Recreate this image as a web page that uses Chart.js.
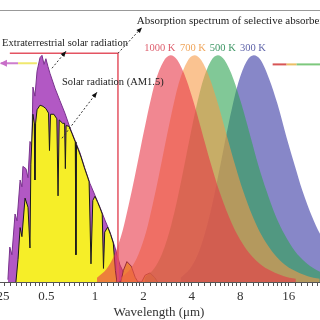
<!DOCTYPE html>
<html>
<head>
<meta charset="utf-8">
<script src="https://cdn.jsdelivr.net/npm/chart.js@4.4.1/dist/chart.umd.min.js"></script>
<style>
  html, body { margin: 0; padding: 0; background: #fff; }
  #wrap { position: relative; width: 320px; height: 320px; overflow: hidden; }
  #chart { position: absolute; left: -24px; top: 0; }
</style>
</head>
<body>
<div id="wrap"><canvas id="chart" width="364" height="320"></canvas></div>
<script>
// axis ticks (wavelength, um)
const tickValues = [0.25, 0.5, 1, 2, 4, 8, 16];
const tickLabels = ['0.25', '0.5', '1', '2', '4', '8', '16'];

// extraterrestrial solar spectrum (normalised)
const etWl  = [0.288,0.296,0.305,0.319,0.328,0.343,0.352,0.357,0.373,0.384,0.395,0.406,0.412,0.424,0.437,0.456,0.469,0.483,0.496,0.511,0.526,0.565,0.606,0.651,0.70,0.752,0.807,0.867,0.931,1.0,1.074,1.154,1.24,1.33,1.43,1.535,1.65];
const etVal = [0.01,0.154,0.12,0.30,0.27,0.45,0.42,0.51,0.50,0.46,0.62,0.60,0.86,0.82,0.93,0.99,1.0,0.96,0.985,0.95,0.92,0.855,0.80,0.745,0.68,0.625,0.57,0.50,0.435,0.383,0.33,0.273,0.22,0.154,0.075,0.03,0.005];

// solar radiation AM1.5
const amWl  = [0.323,0.333,0.343,0.352,0.368,0.384,0.395,0.40,0.412,0.42,0.424,0.428,0.437,0.456,0.476,0.496,0.515,0.522,0.53,0.556,0.58,0.59,0.60,0.63,0.648,0.655,0.662,0.69,0.72,0.755,0.762,0.768,0.79,0.82,0.86,0.90,0.92,0.945,0.97,1.0,1.04,1.08,1.11,1.13,1.15,1.2,1.25,1.3,1.34,1.37,1.45,1.5,1.58,1.68,1.78,1.85,1.95,2.05,2.2,2.35,2.45];
const amVal = [0,0.10,0.24,0.20,0.37,0.33,0.15,0.52,0.74,0.70,0.45,0.70,0.76,0.78,0.775,0.765,0.745,0.58,0.74,0.74,0.72,0.38,0.715,0.70,0.70,0.50,0.69,0.687,0.655,0.618,0.12,0.604,0.582,0.551,0.504,0.463,0.442,0.08,0.36,0.378,0.351,0.323,0.300,0.06,0.22,0.242,0.21,0.172,0.05,0,0,0.05,0.09,0.07,0.02,0,0,0.03,0.04,0.02,0];

// absorption spectrum of selective absorber
const absWl  = [0.296, 1.39, 1.39];
const absVal = [1.009, 1.009, 0];

// blackbody curves (normalised to their peaks)
const bbVal   = [0.019,0.057,0.125,0.222,0.34,0.467,0.591,0.704,0.878,0.972,1,0.979,0.895,0.786,0.638,0.51,0.405,0.289,0.208,0.138,0.087,0.057,0.027,0.014];
const bb1000Wl = [1.03,1.18,1.33,1.48,1.62,1.77,1.92,2.07,2.36,2.66,2.95,3.25,3.69,4.13,4.72,5.31,5.9,6.79,7.67,8.85,10.3,11.8,14.8,17.7];
const bb700Wl  = [1.45,1.66,1.87,2.08,2.28,2.49,2.70,2.91,3.32,3.74,4.15,4.57,5.19,5.81,6.64,7.47,8.3,9.55,10.8,12.5,14.5,16.6,20.8,24.9];
const bb500Wl  = [2.03,2.32,2.61,2.9,3.19,3.48,3.77,4.06,4.64,5.22,5.8,6.38,7.25,8.12,9.28,10.4,11.6,13.3,15.1,17.4,20.3,23.2,29,34.8];
const bb300Wl  = [3.4,3.88,4.37,4.85,5.34,5.82,6.31,6.79,7.76,8.73,9.7,10.7,12.1,13.6,15.5,17.5,19.4,22.3,25.2,29.1,34,38.8,48.5,58.2];

function pts(xs, ys) {
    return xs.map((x, i) => ({x: x, y: ys[i]}))
}

// minor ticks: tenths of each octave
const allTicks = [];
tickValues.forEach(a => {
    allTicks.push(a);
    for (let k = 1; k < 10; k++) allTicks.push(a + k * a / 10);
});

const serif = '"Liberation Serif", "Times New Roman", serif';

function dottedArrow(ctx, x1, y1, x2, y2) {
    ctx.save();
    ctx.strokeStyle = '#333';
    ctx.lineWidth = 1;
    ctx.setLineDash([2, 2]);
    ctx.beginPath();
    ctx.moveTo(x1, y1);
    ctx.lineTo(x2, y2);
    ctx.stroke();
    ctx.setLineDash([]);
    const a = Math.atan2(y2 - y1, x2 - x1);
    ctx.fillStyle = '#111';
    ctx.beginPath();
    ctx.moveTo(x2, y2);
    ctx.lineTo(x2 - 6 * Math.cos(a - 0.4), y2 - 6 * Math.sin(a - 0.4));
    ctx.lineTo(x2 - 6 * Math.cos(a + 0.4), y2 - 6 * Math.sin(a + 0.4));
    ctx.closePath();
    ctx.fill();
    ctx.restore();
}

function seg(ctx, x1, x2, y, color) {
    ctx.strokeStyle = color;
    ctx.lineWidth = 2;
    ctx.beginPath();
    ctx.moveTo(x1, y);
    ctx.lineTo(x2, y);
    ctx.stroke();
}

const notes = {
    id: 'notes',
    afterDatasetsDraw(chart) {
        const {ctx, scales: {x, y}} = chart;
        const X = v => x.getPixelForValue(v);
        const Y = v => y.getPixelForValue(v);
        ctx.save();

        // arrows
        dottedArrow(ctx, X(1.39), Y(1.009), X(1.958), Y(1.123));
        dottedArrow(ctx, X(0.541), Y(0.943), X(0.661), Y(1.018));
        dottedArrow(ctx, X(0.624), Y(0.634), X(1.029), Y(0.837));

        // coloured markers at left and right
        seg(ctx, X(0.26), X(0.333), Y(0.965), 'rgb(205,125,205)');
        seg(ctx, X(0.333), X(0.436), Y(0.965), 'rgb(240,232,110)');
        ctx.fillStyle = 'rgb(200,110,200)';
        ctx.beginPath();
        ctx.moveTo(X(0.257), Y(0.965));
        ctx.lineTo(X(0.257) + 7, Y(0.965) - 3.5);
        ctx.lineTo(X(0.257) + 7, Y(0.965) + 3.5);
        ctx.closePath();
        ctx.fill();
        seg(ctx, X(12.7), X(15.5), Y(0.96), 'rgb(215,85,85)');
        seg(ctx, X(15.5), X(17.9), Y(0.96), 'rgb(235,190,100)');
        seg(ctx, X(17.9), X(25), Y(0.96), 'rgb(125,200,125)');

        // texts
        ctx.textBaseline = 'middle';
        ctx.textAlign = 'left';
        ctx.fillStyle = '#222';
        ctx.font = '11px ' + serif;
        ctx.fillText('Absorption spectrum of selective absorber', X(1.82), Y(1.15));
        ctx.font = '10.5px ' + serif;
        ctx.fillText('Extraterrestrial solar radiation', X(0.265), Y(1.053));
        ctx.fillText('Solar radiation (AM1.5)', X(0.624), Y(0.881));

        ctx.textAlign = 'center';
        ctx.fillStyle = 'rgb(222,95,110)';
        ctx.fillText('1000 K', X(2.53), Y(1.031));
        ctx.fillStyle = 'rgb(240,165,90)';
        ctx.fillText('700 K', X(4.06), Y(1.031));
        ctx.fillStyle = 'rgb(60,150,100)';
        ctx.fillText('500 K', X(6.23), Y(1.031));
        ctx.fillStyle = 'rgb(95,100,170)';
        ctx.fillText('300 K', X(9.57), Y(1.031));
        ctx.restore();
    }
};

const bbStyle = {borderWidth: 0, borderColor: 'transparent', fill: 'origin', cubicInterpolationMode: 'monotone'};

const data = {
    datasets: [
        {label: 'Absorber', data: pts(absWl, absVal), borderColor: 'rgb(228,84,98)', borderWidth: 1.5, fill: false},
        {label: '1000 K', data: pts(bb1000Wl, bbVal), backgroundColor: 'rgba(232,55,72,0.6)', ...bbStyle},
        {label: '700 K', data: pts(bb700Wl, bbVal), backgroundColor: 'rgba(247,155,72,0.6)', ...bbStyle},
        {label: '500 K', data: pts(bb500Wl, bbVal), backgroundColor: 'rgba(45,163,82,0.6)', ...bbStyle},
        {label: '300 K', data: pts(bb300Wl, bbVal), backgroundColor: 'rgba(55,55,163,0.6)', ...bbStyle},
        {label: 'AM1.5', data: pts(amWl, amVal), backgroundColor: 'rgb(246,238,40)', borderColor: '#1a1a1a', borderWidth: 1, fill: 'origin'},
        {label: 'Extraterrestrial', data: pts(etWl, etVal), backgroundColor: 'rgb(178,88,196)', borderColor: 'rgb(120,50,140)', borderWidth: 1, fill: 'origin'}
    ]
};

const config = {
    type: 'line',
    data: data,
    options: {
        responsive: false,
        animation: false,
        devicePixelRatio: 1,
        layout: {padding: {left: 22, right: 20, top: 10, bottom: 0}},
        plugins: {legend: {display: false}, tooltip: {enabled: false}},
        elements: {point: {radius: 0}, line: {tension: 0}},
        scales: {
            x: {
                type: 'logarithmic', position: 'bottom', min: 0.25, max: 25,
                afterBuildTicks: s => { s.ticks = allTicks.map(v => ({value: v})) },
                afterFit: s => { s.height = 38 },
                ticks: {
                    autoSkip: false, maxRotation: 0, padding: 3, color: '#333',
                    font: {family: serif, size: 13},
                    callback: v => { const i = tickValues.indexOf(v); return i >= 0 ? tickLabels[i] : '' }
                },
                grid: {drawOnChartArea: false, tickLength: 4, tickColor: '#555'},
                border: {color: '#555'},
                title: {display: true, text: 'Wavelength (μm)', color: '#333', font: {family: serif, size: 13}, padding: {top: 0, bottom: 0}}
            },
            x2: {
                type: 'logarithmic', position: 'top', min: 0.25, max: 25,
                ticks: {display: false}, grid: {display: false},
                border: {color: '#999'},
                afterFit: s => { s.height = 0 }
            },
            y: {min: 0, max: 1.2, display: false}
        }
    },
    plugins: [notes]
};

const chart = new Chart(document.getElementById('chart').getContext('2d'), config);
</script>
</body>
</html>
